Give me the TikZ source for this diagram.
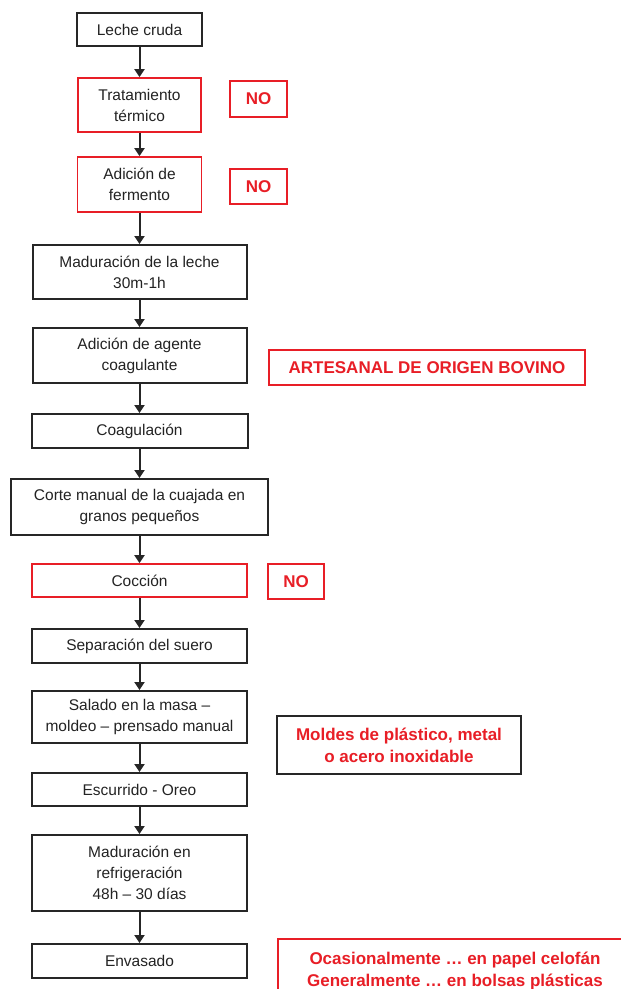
\documentclass[tikz,border=0pt]{standalone}
\usepackage{fontspec}
\setmainfont{Liberation Sans}
\usetikzlibrary{arrows.meta}
\definecolor{myred}{RGB}{232,30,38}
\definecolor{mytext}{RGB}{35,35,35}
\tikzset{
  stepbox/.style={draw=black!85, line width=2pt, inner sep=0pt, align=center, text=mytext,
    font=\fontsize{15.5}{21}\selectfont},
  redstep/.style={stepbox, draw=myred, line width=1.8pt},
  notebox/.style={draw=myred, line width=1.8pt, inner sep=0pt, align=center, text=myred,
    font=\fontsize{17}{22}\selectfont\bfseries},
  arr/.style={line width=2pt, draw=black!85, -{Triangle[length=8pt,width=10pt]}}
}
\begin{document}
\begin{tikzpicture}[x=1pt,y=-1pt]
\useasboundingbox (0,0) rectangle (621,989);
\clip (0,0) rectangle (621,989);
\fill[white] (0,0) rectangle (621,989);
% main chain
\node[stepbox, minimum width=125pt, minimum height=33pt] (leche) at (139.5,29.5) {Leche cruda};
\node[redstep, minimum width=123pt, minimum height=54pt] (trat) at (139.5,105) {Tratamiento\\térmico};
\node[redstep, minimum width=124pt, minimum height=55pt] (fer) at (139.5,184.5) {Adición de\\fermento};
\node[stepbox, minimum width=214pt, minimum height=54pt] (mad) at (139.5,272) {Maduración de la leche\\30m-1h};
\node[stepbox, minimum width=214pt, minimum height=55pt] (agen) at (139.5,355.5) {Adición de agente\\coagulante};
\node[stepbox, minimum width=216pt, minimum height=34pt] (coag) at (139.5,431) {Coagulación};
\node[stepbox, minimum width=257pt, minimum height=56pt] (corte) at (139.5,507) {Corte manual de la cuajada en\\granos pequeños};
\node[redstep, minimum width=215pt, minimum height=33pt] (cocc) at (139.5,580.5) {Cocción};
\node[stepbox, minimum width=215pt, minimum height=34pt] (sep) at (139.5,646) {Separación del suero};
\node[stepbox, minimum width=215pt, minimum height=52pt] (sal) at (139.5,717) {Salado en la masa –\\moldeo – prensado manual};
\node[stepbox, minimum width=215pt, minimum height=33pt] (esc) at (139.5,789.5) {Escurrido - Oreo};
\node[stepbox, minimum width=215pt, minimum height=76pt] (madref) at (139.5,873) {Maduración en\\refrigeración\\48h – 30 días};
\node[stepbox, minimum width=215pt, minimum height=34pt] (env) at (139.5,961) {Envasado};
% side notes
\node[notebox, minimum width=57pt, minimum height=36pt] (no1) at (258.5,99) {NO};
\node[notebox, minimum width=57pt, minimum height=35pt] (no2) at (258.5,186.5) {NO};
\node[notebox, minimum width=316pt, minimum height=35pt] (art) at (427,367.5) {ARTESANAL DE ORIGEN BOVINO};
\node[notebox, minimum width=56pt, minimum height=35pt] (no3) at (296,581.5) {NO};
\node[notebox, draw=black!85, line width=2pt, minimum width=244pt, minimum height=58pt] (mold) at (399,745) {Moldes de plástico, metal\\o acero inoxidable};
\node[notebox, minimum width=354pt, minimum height=61pt, text depth=0pt] (oca) at (455,969.5) {Ocasionalmente … en papel celofán\\Generalmente … en bolsas plásticas\vphantom{p}};
% arrows
\draw[arr] (leche.south) -- (trat.north);
\draw[arr] (trat.south) -- (fer.north);
\draw[arr] (fer.south) -- (mad.north);
\draw[arr] (mad.south) -- (agen.north);
\draw[arr] (agen.south) -- (coag.north);
\draw[arr] (coag.south) -- (corte.north);
\draw[arr] (corte.south) -- (cocc.north);
\draw[arr] (cocc.south) -- (sep.north);
\draw[arr] (sep.south) -- (sal.north);
\draw[arr] (sal.south) -- (esc.north);
\draw[arr] (esc.south) -- (madref.north);
\draw[arr] (madref.south) -- (env.north);
\end{tikzpicture}
\end{document}
